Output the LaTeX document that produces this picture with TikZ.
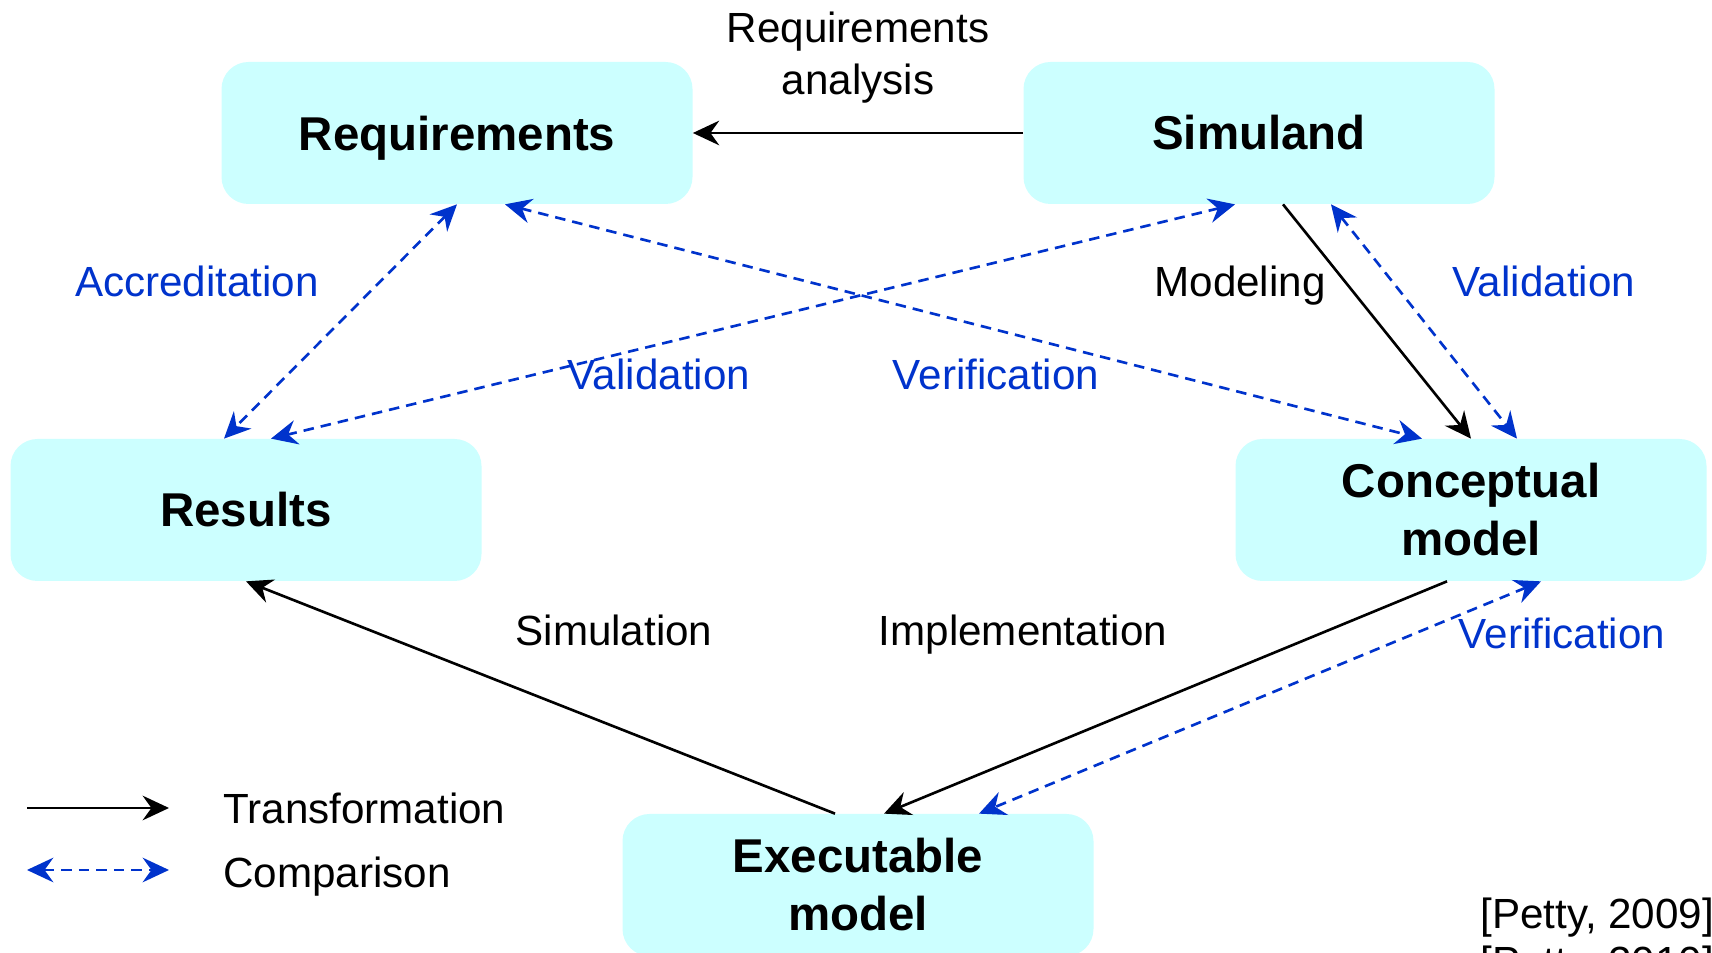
\documentclass[tikz,border=0pt]{standalone}
\usepackage{fontspec}
\setmainfont{Liberation Sans}
\usetikzlibrary{arrows.meta, positioning, calc}
\definecolor{cmpblue}{RGB}{0, 51, 204}
\definecolor{boxcyan}{RGB}{204, 255, 255}

\tikzset{
  stage/.style={fill=boxcyan, rounded corners=0.54cm, minimum width=9.42cm, minimum height=2.84cm,
    align=center, font=\fontsize{27}{33}\selectfont\bfseries},
  lbl/.style={font=\fontsize{24}{29.6}\selectfont, align=center, inner sep=0pt, text depth=0pt},
  cmplbl/.style={lbl, text=cmpblue},
  transarrow/.style={line width=1.5pt, -{Stealth[length=15pt, width=14pt, inset=5pt]}},
  comparrow/.style={line width=1.5pt, draw=cmpblue, dash pattern=on 6pt off 4pt,
    {Stealth[length=15pt, width=14pt, inset=5pt, cmpblue]}-{Stealth[length=15pt, width=14pt, inset=5pt, cmpblue]}},
}

\begin{document}
\begin{tikzpicture}
  \useasboundingbox[fill=white] (0,0) rectangle (34.24,19.06);

  % stages
  \node[stage, text depth=0pt] (req) at (9.14,16.4) {Requirements};
  \node[stage] (sim) at (25.18,16.4) {Simuland};
  \node[stage] (res) at (4.92,8.86) {Results};
  \node[stage] (con) at (29.42,8.86) {Conceptual\\model};
  \node[stage] (exe) at (17.16,1.36) {Executable\\model};

  % transformations
  \draw[transarrow] (sim.west) -- (req.east);
  \draw[transarrow] ([xshift=0.48cm]sim.south) -- (con.north);
  \draw[transarrow] ([xshift=-0.48cm]con.south) -- ([xshift=0.52cm]exe.north);
  \draw[transarrow] ([xshift=-0.46cm]exe.north) -- (res.south);

  % comparisons
  \draw[comparrow] (req.south) -- ([xshift=-0.44cm]res.north);
  \draw[comparrow] ([xshift=0.96cm]req.south) -- ([xshift=-0.98cm]con.north);
  \draw[comparrow] ([xshift=-0.48cm]sim.south) -- ([xshift=0.5cm]res.north);
  \draw[comparrow] ([xshift=1.44cm]sim.south) -- ([xshift=0.92cm]con.north);
  \draw[comparrow] ([xshift=1.4cm]con.south) -- ([xshift=2.42cm]exe.north);

  % labels
  \node[lbl] (ana) at (17.16,18.0) {Requirements\\analysis};
  \node[lbl] (mod) at (24.8,13.44) {Modeling};
  \node[lbl] (simu) at (12.28,6.46) {Simulation};
  \node[lbl] (impl) at (20.46,6.46) {Implementation};
  \node[cmplbl] (acc) at (3.94,13.44) {Accreditation};
  \node[cmplbl] (valsim) at (30.88,13.44) {Validation};
  \node[cmplbl] (valres) at (13.18,11.58) {Validation};
  \node[cmplbl] (verreq) at (19.92,11.58) {Verification};
  \node[cmplbl] (vercon) at (31.24,6.4) {Verification};

  % legend
  \node[lbl, anchor=west] (ltrans) at (4.46,2.9) {Transformation};
  \node[lbl, anchor=west] (lcomp) at (4.46,1.62) {Comparison};
  \coordinate (lt1) at (0.54,2.9);
  \coordinate (lt2) at (3.38,2.9);
  \coordinate (lc1) at (0.54,1.66);
  \coordinate (lc2) at (3.38,1.66);
  \draw[transarrow] (lt1) -- (lt2);
  \draw[comparrow] (lc1) -- (lc2);

  % source
  \node[lbl, anchor=west] (cite1) at (29.6,0.8) {[Petty, 2009]};
  \node[lbl, anchor=west] (cite2) at (29.6,-0.16) {[Petty, 2010]};
\end{tikzpicture}
\end{document}
